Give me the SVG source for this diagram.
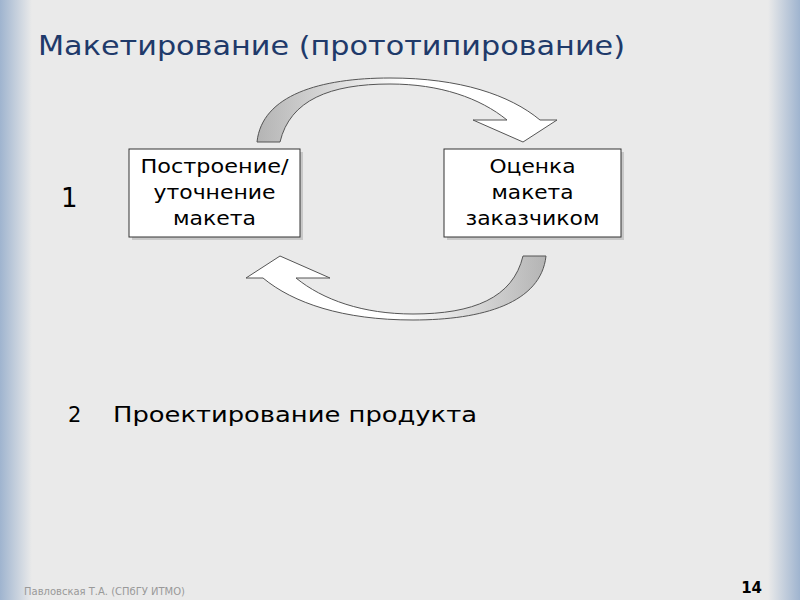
<svg xmlns="http://www.w3.org/2000/svg" width="800" height="600" viewBox="0 0 800 600">
<defs>
<linearGradient id="edgeL" x1="0" x2="1" y1="0" y2="0"><stop offset="0" stop-color="#9fb4cf"/><stop offset="1" stop-color="#eaeaea"/></linearGradient>
<linearGradient id="edgeR" x1="1" x2="0" y1="0" y2="0"><stop offset="0" stop-color="#9fb4cf"/><stop offset="1" stop-color="#eaeaea"/></linearGradient>
<linearGradient id="arr" x1="0" x2="1" y1="0" y2="0"><stop offset="0" stop-color="#b4b4b4"/><stop offset="0.5" stop-color="#ffffff"/><stop offset="1" stop-color="#ffffff"/></linearGradient>
<path id="carrow" d="M257,142 C262,95 320,78 390,78 C460,78 510,95 540,120 L557,120 L523,142 L473,120 L507,120 C480,98 440,84 390,84 C330,84 290,100 280,142 Z"/>
</defs>
<style>
text{font-family:"DejaVu Sans","Noto Sans",sans-serif;fill:#000}
.box{fill:#fff;stroke:#333;stroke-width:1}
.shadow{fill:#c8c8c8}
.bt{font-size:19px;text-anchor:middle}
.a{fill:url(#arr);stroke:#555;stroke-width:1}
</style>
<rect width="800" height="600" fill="#eaeaea"/>
<rect x="0" width="32" height="600" fill="url(#edgeL)"/>
<rect x="768" width="32" height="600" fill="url(#edgeR)"/>
<text x="38" y="55" textLength="587" lengthAdjust="spacingAndGlyphs" style="font-size:27px;fill:#1f3a6a">Макетирование (прототипирование)</text>
<g id="connectors">
<use href="#carrow" class="a"/>
<use href="#carrow" class="a" transform="rotate(180 401.5 199)"/>
</g>
<g id="node1">
<rect class="shadow" x="132" y="152" width="171" height="88"/>
<rect class="box" x="129" y="149" width="171" height="88"/>
<text class="bt" x="214.5" y="173" textLength="148" lengthAdjust="spacingAndGlyphs">Построение/</text>
<text class="bt" x="214.5" y="199" textLength="122" lengthAdjust="spacingAndGlyphs">уточнение</text>
<text class="bt" x="214.5" y="225" textLength="83" lengthAdjust="spacingAndGlyphs">макета</text>
</g>
<g id="node2">
<rect class="shadow" x="447" y="152" width="177" height="88"/>
<rect class="box" x="444" y="149" width="177" height="88"/>
<text class="bt" x="532.5" y="173" textLength="86" lengthAdjust="spacingAndGlyphs">Оценка</text>
<text class="bt" x="532.5" y="199" textLength="82" lengthAdjust="spacingAndGlyphs">макета</text>
<text class="bt" x="532.5" y="225" textLength="134" lengthAdjust="spacingAndGlyphs">заказчиком</text>
</g>
<text x="61" y="207" style="font-size:26px">1</text>
<text x="68" y="422" style="font-size:21px">2</text>
<text x="113" y="422" textLength="364" lengthAdjust="spacingAndGlyphs" style="font-size:22px">Проектирование продукта</text>
<text x="24" y="595" textLength="161" lengthAdjust="spacingAndGlyphs" style="font-size:10px;fill:#999">Павловская Т.А. (СПбГУ ИТМО)</text>
<text x="762" y="593" style="font-size:15px;font-weight:bold;text-anchor:end">14</text>
</svg>
